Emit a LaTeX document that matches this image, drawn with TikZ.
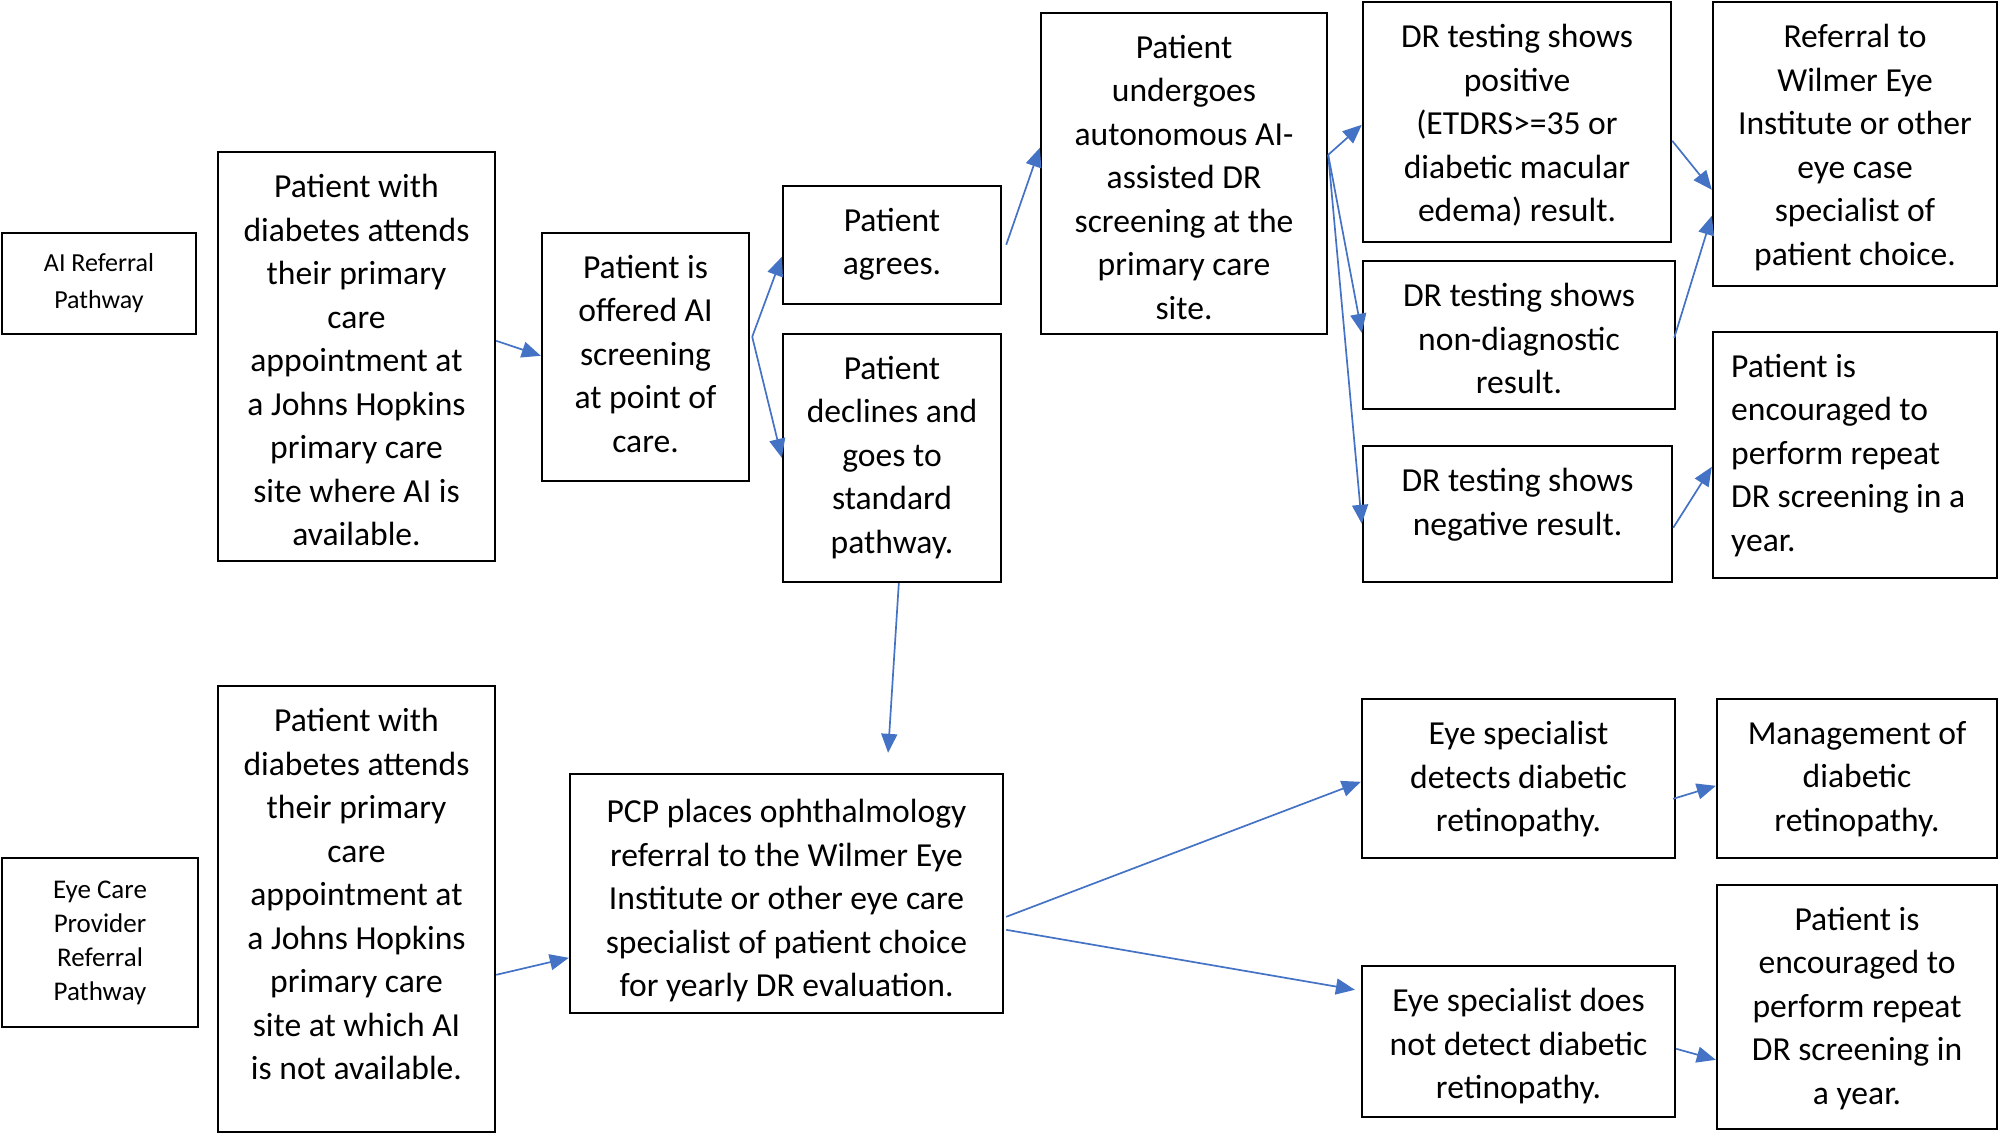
\documentclass[tikz,border=0pt]{standalone}
\usepackage{fontspec}
\setmainfont{Carlito}
\usetikzlibrary{calc,arrows.meta}
\definecolor{arrblue}{HTML}{4472C4}
\tikzset{
  box/.style={draw=black, line width=1.2pt, inner sep=0pt},
  txt/.style={align=center, inner sep=0pt, font=\fontsize{16.8pt}{21.75pt}\selectfont},
  lbl/.style={align=center, inner sep=0pt, font=\fontsize{13pt}{18.5pt}\selectfont},
  lblb/.style={align=center, inner sep=0pt, font=\fontsize{13.5pt}{17pt}\selectfont},
  arr/.style={draw=arrblue, line width=0.85pt, -{Triangle[length=9.5pt,width=8pt]}}
}
\newcommand\mkbox[5]{%
  \node[box, minimum width={(#4-#2)*0.5pt}, minimum height={(#5-#3)*0.5pt}] (#1) at ({(#2+#4)/2},{(#3+#5)/2}) {};}
\begin{document}
\begin{tikzpicture}[x=0.5pt,y=-0.5pt]
\useasboundingbox (0,0) rectangle (2000,1134);
% boxes
\mkbox{ai}{2}{233}{196}{334}
\mkbox{diabA}{218}{152}{495}{561}
\mkbox{offer}{542}{233}{749}{481}
\mkbox{agree}{783}{186}{1001}{304}
\mkbox{decline}{783}{334}{1001}{582}
\mkbox{under}{1041}{13}{1327}{334}
\mkbox{pos}{1363}{2}{1671}{242}
\mkbox{nond}{1363}{261}{1675}{409}
\mkbox{neg}{1363}{446}{1672}{582}
\mkbox{refw}{1713}{2}{1997}{286}
\mkbox{encA}{1713}{332}{1997}{578}
\mkbox{eye}{2}{858}{198}{1027}
\mkbox{diabB}{218}{686}{495}{1132}
\mkbox{pcp}{570}{774}{1003}{1013}
\mkbox{det}{1362}{699}{1675}{858}
\mkbox{mgmt}{1717}{699}{1997}{858}
\mkbox{nodet}{1362}{966}{1675}{1117}
\mkbox{encB}{1717}{885}{1997}{1129}
% texts
\node[lbl] (ait) at (ai) {AI Referral\\Pathway};
\node[lblb] (eyet) at (eye) {Eye Care\\Provider\\Referral\\Pathway};
\node[txt, anchor=north] (diabAt) at ($(diabA.north)+(0,23)$) {Patient with\\diabetes attends\\their primary\\care\\appointment at\\a Johns Hopkins\\primary care\\site where AI is\\available.};
\node[txt, anchor=north] (offert) at ($(offer.north)+(0,23)$) {Patient is\\offered AI\\screening\\at point of\\care.};
\node[txt, anchor=north] (agreet) at ($(agree.north)+(0,23)$) {Patient\\agrees.};
\node[txt, anchor=north] (declinet) at ($(decline.north)+(0,23)$) {Patient\\declines and\\goes to\\standard\\pathway.};
\node[txt, anchor=north] (undert) at ($(under.north)+(0,23)$) {Patient\\undergoes\\autonomous AI-\\assisted DR\\screening at the\\primary care\\site.};
\node[txt, anchor=north] (post) at ($(pos.north)+(0,23)$) {DR testing shows\\positive\\(ETDRS>=35 or\\diabetic macular\\edema) result.};
\node[txt, anchor=north] (nondt) at ($(nond.north)+(0,23)$) {DR testing shows\\non-diagnostic\\result.};
\node[txt, anchor=north] (negt) at ($(neg.north)+(0,23)$) {DR testing shows\\negative result.};
\node[txt, anchor=north] (refwt) at ($(refw.north)+(0,23)$) {Referral to\\Wilmer Eye\\Institute or other\\eye case\\specialist of\\patient choice.};
\node[txt, align=left, anchor=north west] (encAt) at ($(encA.north west)+(19,23)$) {Patient is\\encouraged to\\perform repeat\\DR screening in a\\year.};
\node[txt, anchor=north] (diabBt) at ($(diabB.north)+(0,23)$) {Patient with\\diabetes attends\\their primary\\care\\appointment at\\a Johns Hopkins\\primary care\\site at which AI\\is not available.};
\node[txt, anchor=north] (pcpt) at ($(pcp.north)+(0,26)$) {PCP places ophthalmology\\referral to the Wilmer Eye\\Institute or other eye care\\specialist of patient choice\\for yearly DR evaluation.};
\node[txt, anchor=north] (dett) at ($(det.north)+(0,23)$) {Eye specialist\\detects diabetic\\retinopathy.};
\node[txt, anchor=north] (mgmtt) at ($(mgmt.north)+(0,23)$) {Management of\\diabetic\\retinopathy.};
\node[txt, anchor=north] (nodett) at ($(nodet.north)+(0,23)$) {Eye specialist does\\not detect diabetic\\retinopathy.};
\node[txt, anchor=north] (encBt) at ($(encB.north)+(0,23)$) {Patient is\\encouraged to\\perform repeat\\DR screening in\\a year.};
% arrows
\draw[arr] ($(diabA.north east)+(0,190)$) -- ($(offer.north west)+(0,124)$);
\draw[arr] ($(offer.north east)+(2,105)$) -- ($(agree.north west)+(0,72)$);
\draw[arr] ($(offer.north east)+(2,105)$) -- ($(decline.north west)+(0,125)$);
\draw[arr] ($(agree.north east)+(4,60)$) -- ($(under.north west)+(0,136)$);
\draw[arr] ($(under.north east)+(0,143)$) -- ($(pos.north west)+(0,124)$);
\draw[arr] ($(under.north east)+(0,143)$) -- ($(nond.north west)+(0,73)$);
\draw[arr] ($(under.north east)+(0,143)$) -- ($(neg.north west)+(0,79)$);
\draw[arr] ($(pos.north east)+(0,140)$) -- ($(refw.north west)+(0,189)$);
\draw[arr] ($(nond.north east)+(-2,78)$) -- ($(refw.north west)+(0,215)$);
\draw[arr] ($(neg.north east)+(0,83)$) -- ($(encA.north west)+(0,136)$);
\draw[arr, shorten >=10pt] ($(decline.south west)+(117,0)$) -- ($(pcp.north west)+(318,0)$);
\draw[arr] ($(diabB.north east)+(0,290)$) -- ($(pcp.north west)+(0,185)$);
\draw[arr] ($(pcp.north east)+(2,144)$) -- ($(det.north west)+(0,84)$);
\draw[arr, shorten >=3pt] ($(pcp.north east)+(2,157)$) -- ($(nodet.north west)+(0,26)$);
\draw[arr] ($(det.north east)+(-3,101)$) -- ($(mgmt.north west)+(0,88)$);
\draw[arr] ($(nodet.north east)+(0,84)$) -- ($(encB.north west)+(0,176)$);
\end{tikzpicture}
\end{document}
